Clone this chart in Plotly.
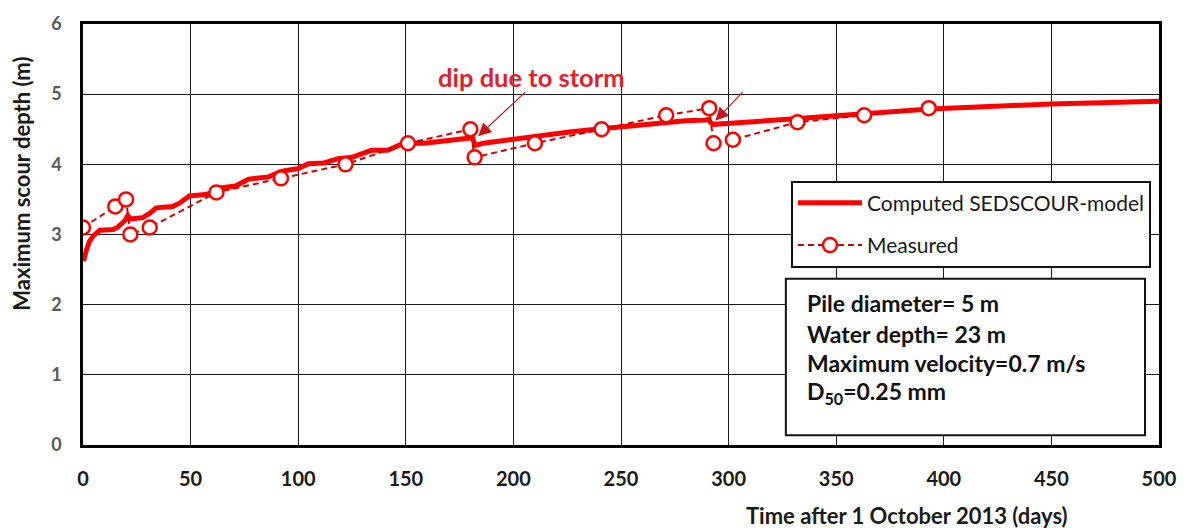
import plotly.graph_objects as go

# Computed scour development (SEDSCOUR model)
computed_days = [0, 0.5, 1.7, 3, 4.8, 7.8, 14, 16, 17.8, 19.5, 20.8, 21.5, 22, 27.7, 31, 34,
                 41.6, 45, 49.4, 57, 60, 63, 70.9, 74, 77, 86, 89, 92, 100, 102, 104.7, 112,
                 115, 118.5, 125, 128, 134, 141.6, 145, 149, 158.5, 164.7, 170.7, 177, 181,
                 181.5, 182.2, 186, 195, 204.6, 213.8, 226, 235, 249, 264.6, 280, 289, 290.5,
                 291.5, 293, 303, 315, 326, 330.7, 363, 393.7, 450, 500]
computed_depth = [2.63, 2.65, 2.79, 2.9, 2.98, 3.06, 3.07, 3.1, 3.15, 3.2, 3.27, 3.24, 3.22, 3.24,
                  3.3, 3.38, 3.4, 3.45, 3.55, 3.57, 3.6, 3.66, 3.69, 3.74, 3.79, 3.82, 3.86, 3.9,
                  3.94, 3.97, 4.01, 4.02, 4.05, 4.08, 4.1, 4.13, 4.2, 4.2, 4.25, 4.3, 4.3, 4.32,
                  4.34, 4.37, 4.38, 4.33, 4.27, 4.3, 4.34, 4.37, 4.41, 4.46, 4.49, 4.53, 4.58,
                  4.62, 4.63, 4.64, 4.6, 4.57, 4.59, 4.62, 4.65, 4.65, 4.72, 4.79, 4.86, 4.9]

# Measured maximum scour depth
measured_days = [0, 15, 20, 22, 31, 62, 92, 122, 151, 180, 182, 210, 241, 271, 291, 293, 302,
                 332, 363, 393]
measured_depth = [3.1, 3.4, 3.5, 3.0, 3.1, 3.6, 3.8, 4.0, 4.3, 4.5, 4.1, 4.3, 4.5, 4.7, 4.8, 4.3,
                  4.35, 4.6, 4.7, 4.8]

x_ticks = [0, 50, 100, 150, 200, 250, 300, 350, 400, 450, 500]
y_ticks = [0, 1, 2, 3, 4, 5, 6]

info_lines = ["Pile diameter= 5 m", "Water depth= 23 m", "Maximum velocity=0.7 m/s",
              "D<sub>50</sub>=0.25 mm"]

FONT = "Lato"
RED = "#FF0000"
DARK_RED = "#D00000"

fig = go.Figure()
fig.add_trace(go.Scatter(
    x=computed_days, y=computed_depth, mode="lines", name="Computed SEDSCOUR-model",
    line=dict(color=RED, width=5), legendgroup="a"))
fig.add_trace(go.Scatter(
    x=measured_days, y=measured_depth, mode="lines+markers", name="Measured",
    line=dict(color=DARK_RED, width=2, dash="6px,4px"),
    marker=dict(symbol="circle", size=14, color="white", line=dict(color=RED, width=2.5)),
    legendgroup="b"))

axis_common = dict(showgrid=True, gridcolor="#1a1a1a", gridwidth=1, showline=True,
                   linecolor="#000000", linewidth=2.5, mirror=True, zeroline=False, ticks="")

fig.update_xaxes(range=[0, 500], tickvals=x_ticks, ticklabelstandoff=14,
                 tickfont=dict(family=FONT, size=20, color="#1a1a1a", weight="bold"),
                 **axis_common)
fig.update_yaxes(range=[0, 6], tickvals=y_ticks, ticklabelstandoff=15,
                 tickfont=dict(family=FONT, size=18, color="#595959", weight="bold"),
                 **axis_common)

annotations = [
    dict(text="Time after 1 October 2013 (days)", xref="paper", yref="paper",
         x=0.766, y=-0.167, xanchor="center", yanchor="middle", showarrow=False,
         font=dict(family=FONT, size=22, color="#1a1a1a", weight="bold")),
    dict(text="Maximum scour depth (m)", xref="paper", yref="paper",
         x=-0.057, y=0.62, xanchor="center", yanchor="middle", textangle=-90, showarrow=False,
         font=dict(family=FONT, size=22, color="#1a1a1a", weight="bold")),
    dict(text="dip due to storm", x=208.5, y=5.24, xref="x", yref="y", showarrow=False,
         font=dict(family=FONT, size=25.5, color="#E0202A", weight="bold")),
    dict(text="", x=183.6, y=4.40, ax=206.2, ay=5.05, axref="x", ayref="y", xref="x", yref="y",
         showarrow=True, arrowhead=2, arrowsize=2.2, arrowwidth=1.2, arrowcolor="#C4151C"),
    dict(text="", x=293.8, y=4.62, ax=307.2, ay=5.05, axref="x", ayref="y", xref="x", yref="y",
         showarrow=True, arrowhead=2, arrowsize=2.2, arrowwidth=1.2, arrowcolor="#C4151C"),
]

# Parameter box text
info_y = [2.02, 1.58, 1.17, 0.75]
for line, yv in zip(info_lines, info_y):
    annotations.append(dict(text=line, x=335.5, y=yv, xref="x", yref="y", xanchor="left",
                            yanchor="middle", showarrow=False,
                            font=dict(family=FONT, size=23, color="#111111", weight="bold")))

fig.update_layout(
    width=1189, height=528,
    margin=dict(l=83, r=22, t=20, b=83),
    paper_bgcolor="white", plot_bgcolor="white",
    shapes=[dict(type="rect", xref="x", yref="y", x0=326.6, x1=493.5, y0=0.14, y1=2.37,
                 line=dict(color="#111111", width=2), fillcolor="white", layer="above")],
    annotations=annotations,
    legend=dict(x=0.658, y=0.628, xanchor="left", yanchor="top",
                bgcolor="white", bordercolor="#111111", borderwidth=2,
                font=dict(family=FONT, size=21, color="#1a1a1a"),
                itemwidth=64, tracegroupgap=12, traceorder="grouped"),
)

fig.write_html("out.html")
